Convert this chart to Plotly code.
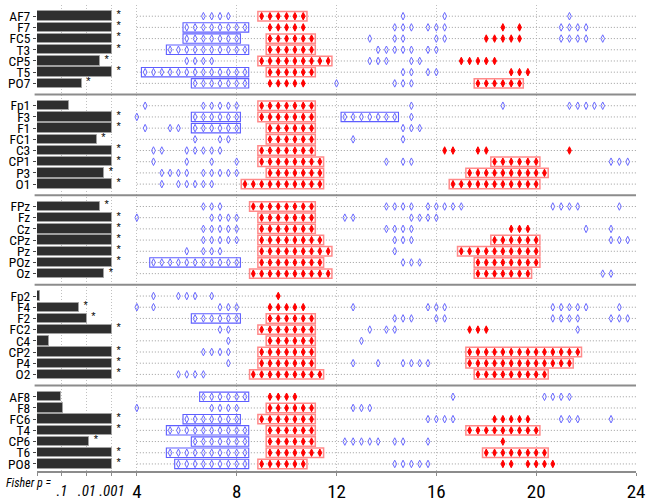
import plotly.graph_objects as go

# Spectral bins: frequency (Hz) = F0 + bin * BIN_HZ
F0 = 4.0
BIN_HZ = 1.0 / 3.0
MIN_CLUSTER = 6          # runs of at least this many bins get a cluster box

GROUP_SIZES = [7, 8, 7, 8, 7]

CHANNELS = [
    "AF7", "F7", "FC5", "T3", "CP5", "T5", "PO7",
    "Fp1", "F3", "F1", "FC1", "C3", "CP1", "P3", "O1",
    "FPz", "Fz", "Cz", "CPz", "Pz", "POz", "Oz",
    "Fp2", "F4", "F2", "FC2", "C4", "CP2", "P4", "O2",
    "AF8", "F8", "FC6", "T4", "CP6", "T6", "PO8",
]

# Fisher combined p, shown as -log10(p) (capped at .001)
NEG_LOG10_P = [
    3.0, 3.0, 3.0, 3.0, 2.52, 3.0, 1.79,
    1.27, 3.0, 3.0, 2.39, 3.0, 3.0, 2.69, 3.0,
    2.52, 3.0, 3.0, 3.0, 3.0, 3.0, 2.69,
    0.12, 1.68, 1.99, 3.0, 0.49, 3.0, 3.0, 3.0,
    0.96, 1.04, 3.0, 3.0, 2.09, 3.0, 3.0,
]

# Bins with a significant power decrease (blue, open)
DECREASE_BINS = [
    [8, 9, 10, 11, 32, 37, 52],
    [6, 7, 8, 9, 10, 11, 12, 13, 31, 32, 33, 35, 36, 37, 51, 52, 53, 54],
    [6, 7, 8, 9, 10, 11, 12, 28, 31, 32, 36, 37, 51, 52, 53, 54, 56],
    [4, 5, 6, 7, 8, 9, 10, 11, 12, 13, 29, 30, 31, 32, 33, 35, 36],
    [6, 7, 8, 9, 28, 29, 30, 33, 34],
    [1, 2, 3, 4, 5, 6, 7, 8, 9, 10, 11, 12, 13, 32, 33, 35, 36],
    [7, 8, 9, 10, 11, 12, 13, 24, 31, 32, 33],
    [1, 8, 9, 10, 11, 12, 33, 44, 52, 53, 54, 55, 56],
    [0, 7, 8, 9, 10, 11, 12, 25, 26, 27, 28, 29, 30, 31, 33],
    [1, 4, 5, 7, 8, 9, 10, 11, 12, 32, 33, 34],
    [7, 10, 11, 26, 32],
    [2, 3, 6, 7, 8, 9, 10],
    [2, 6, 9, 12, 30, 32, 33, 57, 58, 59],
    [3, 4, 5, 6, 8, 9, 10, 11, 12],
    [3, 5, 6, 7, 8, 9],
    [8, 9, 10, 30, 31, 32, 33, 35, 36, 37, 38, 39, 50, 51, 52, 53, 58],
    [0, 9, 10, 11, 12, 25, 26, 33, 34, 35, 36],
    [8, 9, 10, 11, 12, 30, 31, 32, 33, 54, 57],
    [8, 9, 10, 11, 12, 31, 32, 33, 57, 58, 59],
    [6, 8, 9, 10, 31],
    [2, 3, 4, 5, 6, 7, 8, 9, 10, 11, 12, 32, 33, 34],
    [56, 57],
    [2, 5, 6, 7, 9],
    [0, 2, 10, 11, 12, 26, 35, 36, 37, 50, 51, 52, 53, 54, 58],
    [7, 8, 9, 10, 11, 12, 31, 32, 33, 36, 37, 50, 51, 52, 53, 57, 58, 59],
    [10, 11, 28, 30, 31, 53],
    [11, 27],
    [8, 9, 10, 11],
    [11, 26, 29, 32, 33, 34, 35],
    [5, 6, 7, 8],
    [8, 9, 10, 11, 12, 13, 38, 49, 50, 51, 52],
    [0, 9, 10, 11, 12, 26, 27, 28],
    [6, 7, 8, 9, 10, 11, 12, 35, 36, 37, 38, 51, 52, 53, 57],
    [4, 5, 6, 7, 8, 9, 10, 11, 12, 13],
    [7, 8, 9, 10, 11, 12, 13, 25, 26, 27, 28, 29, 31, 32, 35],
    [4, 5, 6, 7, 8, 9, 10, 11, 12, 13],
    [5, 6, 7, 8, 9, 10, 11, 12, 13, 31, 32, 33, 34, 35],
]

# Bins with a significant power increase (red, filled)
INCREASE_BINS = [
    [15, 16, 17, 18, 19, 20],
    [16, 17, 18, 19, 20, 44, 46],
    [16, 17, 18, 19, 20, 21, 42, 43, 44, 45, 46],
    [16, 17, 18, 19, 20, 21],
    [15, 16, 17, 18, 19, 20, 21, 22, 23, 39, 40, 41, 42, 43],
    [16, 17, 18, 19, 20, 21, 45, 46, 47],
    [16, 17, 18, 19, 20, 41, 42, 43, 44, 45, 46],
    [15, 16, 17, 18, 19, 20, 21],
    [15, 16, 17, 18, 19, 20, 21],
    [16, 17, 18, 19, 20, 21],
    [16, 17, 18, 19, 20, 21],
    [15, 16, 17, 18, 19, 20, 21, 37, 38, 41, 42, 52],
    [15, 16, 17, 18, 19, 20, 21, 22, 43, 44, 45, 46, 47, 48],
    [16, 17, 18, 19, 20, 21, 22, 40, 41, 42, 43, 44, 45, 46, 47, 48, 49],
    [13, 14, 15, 16, 17, 18, 19, 20, 21, 22, 38, 39, 40, 41, 42, 43, 44, 45, 46, 47, 48],
    [14, 15, 16, 17, 18, 19, 20, 21],
    [15, 16, 17, 18, 19, 20, 21],
    [15, 16, 17, 18, 19, 20, 21, 45, 46, 47],
    [15, 16, 17, 18, 19, 20, 21, 22, 43, 44, 45, 46, 47, 48],
    [15, 16, 17, 18, 19, 20, 21, 22, 23, 39, 40, 41, 42, 43, 44, 45, 46, 47, 48],
    [15, 16, 17, 18, 19, 20, 21, 22, 41, 42, 43, 44, 45, 46, 47, 48],
    [14, 15, 16, 17, 18, 19, 20, 21, 22, 23, 41, 42, 43, 44, 45, 46, 47],
    [17],
    [16, 17, 18, 19, 20],
    [16, 17, 18, 19, 20, 21],
    [15, 16, 17, 18, 19, 20, 21, 40, 41, 42],
    [16, 17, 18, 19, 20, 21],
    [15, 16, 17, 18, 19, 20, 21, 40, 41, 42, 43, 44, 45, 46, 47, 48, 49, 50, 51, 52, 53],
    [15, 16, 17, 18, 19, 20, 21, 40, 41, 42, 43, 44, 45, 46, 47, 48, 49, 50, 51, 52],
    [14, 15, 16, 17, 18, 19, 20, 21, 22, 41, 42, 43, 44, 45, 46, 47, 48, 49],
    [16, 17, 18, 19],
    [16, 17, 18, 19, 20, 21],
    [15, 16, 17, 18, 19, 20, 21, 43, 44, 45, 46, 47],
    [16, 17, 18, 19, 20, 21, 40, 41, 42, 43, 44, 45, 46, 47, 48],
    [16, 17, 18, 19, 20, 21, 44],
    [16, 17, 18, 19, 20, 21, 22, 42, 43, 44, 45, 46, 47, 48, 49],
    [15, 16, 17, 18, 19, 20, 44, 45, 47, 48, 49, 50],
]

FREQ_TICKS = [4, 8, 12, 16, 20, 24]
P_TICKS = [1, 2, 3]
P_TICK_TEXT = [".1", ".01", ".001"]

NARROW = "Roboto Condensed, Liberation Sans, Arial, sans-serif"
BLUE = "#6a6aff"
RED = "#ff0000"
DOTS = "1px,2px"

# Row slots: channels stacked top to bottom, one empty slot between groups
slots, separators = [], []
pos = 0
for gi, n in enumerate(GROUP_SIZES):
    for _ in range(n):
        slots.append(pos)
        pos += 1
    if gi < len(GROUP_SIZES) - 1:
        separators.append(pos)
        pos += 1
last_slot = slots[-1]


def to_hz(b):
    return F0 + b * BIN_HZ


def runs(bins):
    out = []
    for b in sorted(bins):
        if out and b == out[-1][1] + 1:
            out[-1][1] = b
        else:
            out.append([b, b])
    return out


fig = go.Figure()

# Dotted row guides across the frequency range
gx, gy = [], []
for s in slots:
    gx += [FREQ_TICKS[0], FREQ_TICKS[-1], None]
    gy += [s, s, None]
fig.add_trace(go.Scatter(x=gx, y=gy, mode="lines", hoverinfo="skip",
                         line=dict(color="#9c9c9c", width=1, dash=DOTS)))

# Fisher p bars
fig.add_trace(go.Bar(x=NEG_LOG10_P, y=slots, orientation="h", width=0.84,
                     xaxis="x2", yaxis="y",
                     marker=dict(color="#2f2f2f", line=dict(color="#a0a0a0", width=1))))

# Significance stars (p < .05)
star_x = [v + 0.27 for v in NEG_LOG10_P if v > 1.30103]
star_y = [s - 0.08 for s, v in zip(slots, NEG_LOG10_P) if v > 1.30103]
fig.add_trace(go.Scatter(x=star_x, y=star_y, mode="text", text=["*"] * len(star_x),
                         xaxis="x2", yaxis="y",
                         textfont=dict(size=11, color="black", family="Liberation Sans"),
                         hoverinfo="skip"))

shapes = []
for bins_list, color, symbol, box_col, box_w in [
    (DECREASE_BINS, BLUE, "diamond-tall-open", "#5e5eff", 1.1),
    (INCREASE_BINS, RED, "diamond-tall", "#ff8a8a", 1.5),
]:
    xs, ys = [], []
    for s, bins in zip(slots, bins_list):
        xs += [to_hz(b) for b in bins]
        ys += [s] * len(bins)
        for a, b in runs(bins):
            if b - a + 1 >= MIN_CLUSTER:
                shapes.append(dict(type="rect", xref="x", yref="y",
                                   x0=to_hz(a) - 0.15, x1=to_hz(b) + 0.15,
                                   y0=s - 0.42, y1=s + 0.42,
                                   line=dict(color=box_col, width=box_w),
                                   fillcolor="rgba(0,0,0,0)", layer="above"))
    fig.add_trace(go.Scatter(x=xs, y=ys, mode="markers", hoverinfo="skip",
                             marker=dict(symbol=symbol, size=5.4, color=color,
                                         line=dict(color=color, width=1))))

# Group separators
for sp in separators:
    shapes.append(dict(type="line", xref="paper", yref="y", x0=-0.004, x1=1.0,
                       y0=sp, y1=sp, line=dict(color="#8c8c8c", width=2), layer="above"))

fig.update_layout(
    width=656, height=503,
    margin=dict(l=37, r=20, t=5, b=32),
    paper_bgcolor="white", plot_bgcolor="white",
    showlegend=False, bargap=0,
    shapes=shapes,
    font=dict(family=NARROW, color="black"),
    xaxis=dict(range=[0, 24], tickvals=FREQ_TICKS, ticks="outside", ticklen=3,
               tickcolor="#8c8c8c", showgrid=True, gridcolor="#c0c0c0",
               griddash=DOTS, gridwidth=1, showline=True, linecolor="#8c8c8c",
               linewidth=2, zeroline=False, tickfont=dict(size=19, family=NARROW),
               ticklabelstandoff=-1, automargin=False),
    xaxis2=dict(range=[0, 24], overlaying="x", side="bottom", anchor="y",
                tickvals=[0] + P_TICKS, ticktext=[""] + P_TICK_TEXT,
                ticks="outside", ticklen=4, tickcolor="#8c8c8c",
                showgrid=True, gridcolor="#c0c0c0", griddash=DOTS, gridwidth=1,
                showline=False, zeroline=False, ticklabelstandoff=2, automargin=False,
                tickfont=dict(size=15, family=NARROW, style="italic")),
    yaxis=dict(range=[last_slot + 0.63, -1.0], tickvals=slots, ticktext=CHANNELS,
               ticks="outside", ticklen=3, tickcolor="#444444", showgrid=False,
               zeroline=False, showline=False, ticklabelstandoff=0, automargin=False,
               tickfont=dict(size=13.5, family=NARROW)),
)
fig.add_annotation(text="Fisher p =", xref="paper", yref="paper", x=0.027, y=-0.026,
                   xanchor="right", yanchor="middle", showarrow=False,
                   font=dict(size=12, family=NARROW, style="italic"))

fig.write_html("out.html")
